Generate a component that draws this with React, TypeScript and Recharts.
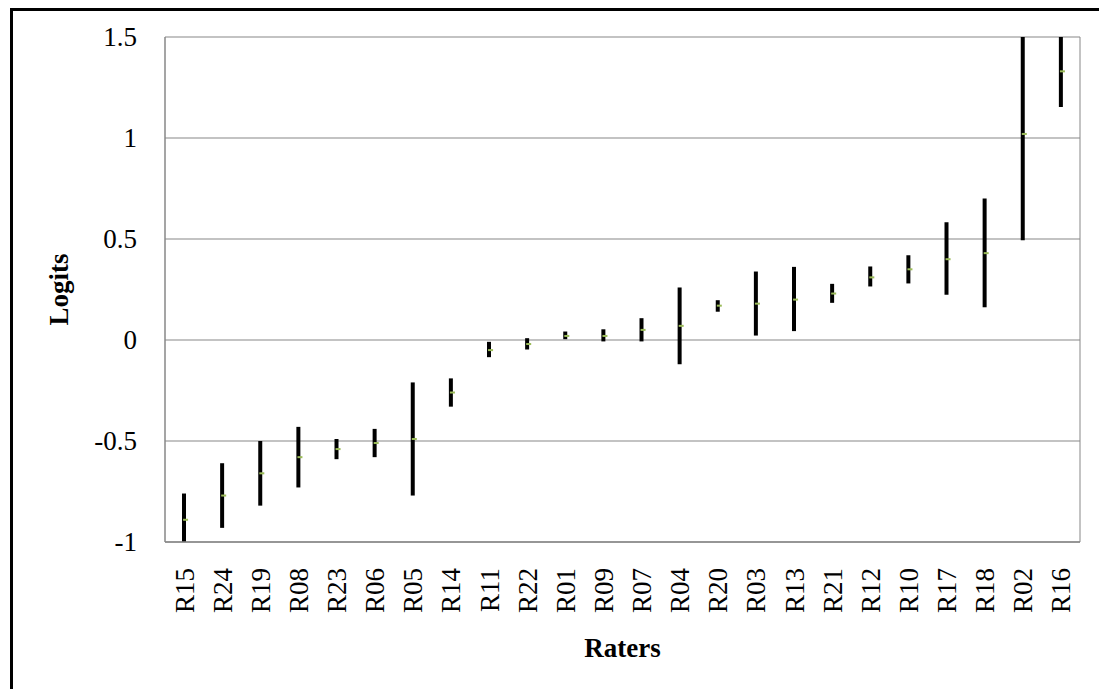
import React from "react";
import {
  Bar,
  CartesianGrid,
  ComposedChart,
  Scatter,
  XAxis,
  YAxis,
} from "recharts";

const raters = [
  "R15", "R24", "R19", "R08", "R23", "R06", "R05", "R14", "R11", "R22", "R01", "R09",
  "R07", "R04", "R20", "R03", "R13", "R21", "R12", "R10", "R17", "R18", "R02", "R16",
];

const measures = [
  -0.89, -0.77, -0.66, -0.58, -0.54, -0.51, -0.49, -0.26, -0.05, -0.02, 0.02, 0.02,
  0.05, 0.07, 0.17, 0.18, 0.2, 0.23, 0.31, 0.35, 0.4, 0.43, 1.02, 1.33,
];

const lowerBounds = [
  -1.02, -0.93, -0.82, -0.73, -0.59, -0.58, -0.77, -0.33, -0.085, -0.047, 0.004, -0.007,
  -0.007, -0.12, 0.14, 0.022, 0.044, 0.184, 0.265, 0.28, 0.224, 0.162, 0.494, 1.154,
];

const upperBounds = [
  -0.76, -0.61, -0.5, -0.43, -0.49, -0.44, -0.21, -0.19, -0.009, 0.009, 0.042, 0.053,
  0.108, 0.26, 0.197, 0.339, 0.362, 0.278, 0.364, 0.42, 0.583, 0.7, 1.55, 1.51,
];

const yTicks = [-1, -0.5, 0, 0.5, 1, 1.5];

const data = raters.map((rater, i) => ({
  rater,
  range: [lowerBounds[i], upperBounds[i]],
  measure: measures[i],
}));

const FONT = "Liberation Serif, Times New Roman, serif";
const GRID = "#878787";

function RaterTick({ x, y, payload }: { x?: number; y?: number; payload?: { value: string } }) {
  return (
    <g transform={`translate(${x},${(y ?? 0) + 26})`}>
      <text
        transform="rotate(-90)"
        textAnchor="end"
        dy="0.35em"
        style={{ fontFamily: FONT, fontSize: 27 }}
        fill="#000"
      >
        {payload?.value}
      </text>
    </g>
  );
}

function YTick({ x, y, payload }: { x?: number; y?: number; payload?: { value: number } }) {
  return (
    <text
      x={x}
      y={y}
      textAnchor="end"
      dy="0.35em"
      style={{ fontFamily: FONT, fontSize: 27 }}
      fill="#000"
    >
      {payload?.value}
    </text>
  );
}

function MeasureMark({ cx, cy }: { cx?: number; cy?: number }) {
  if (cx == null || cy == null) return null;
  return <rect x={cx - 1} y={cy - 1} width={5} height={2} fill="#9bbb59" />;
}

export default function App() {
  return (
    <div
      style={{
        position: "fixed",
        left: 10,
        top: 8,
        width: 1100,
        height: 700,
        borderTop: "3px solid #000",
        borderLeft: "3px solid #000",
        background: "#fff",
      }}
    >
      <ComposedChart
        width={1086}
        height={678}
        data={data}
        margin={{ top: 26, right: 0, left: 0, bottom: 0 }}
      >
        <CartesianGrid vertical={false} stroke={GRID} strokeWidth={1} />
        <XAxis
          dataKey="rater"
          type="category"
          height={147}
          interval={0}
          tickLine={false}
          tickSize={0}
          tickMargin={0}
          axisLine={{ stroke: GRID, strokeWidth: 1.5 }}
          tick={<RaterTick />}
          label={({ viewBox }: any) => (
            <text
              x={viewBox.x + viewBox.width / 2}
              y={viewBox.y + 106}
              textAnchor="middle"
              dominantBaseline="central"
              style={{ fontFamily: FONT, fontSize: 27, fontWeight: "bold" }}
              fill="#000"
            >
              Raters
            </text>
          )}
        />
        <YAxis
          type="number"
          domain={[-1, 1.5]}
          ticks={yTicks}
          allowDataOverflow
          width={152}
          tickLine={false}
          tickSize={0}
          tickMargin={28}
          axisLine={{ stroke: GRID, strokeWidth: 1.5 }}
          tick={<YTick />}
          label={({ viewBox }: any) => (
            <text
              x={46}
              y={viewBox.y + viewBox.height / 2}
              transform={`rotate(-90, 46, ${viewBox.y + viewBox.height / 2})`}
              textAnchor="middle"
              dominantBaseline="central"
              style={{ fontFamily: FONT, fontSize: 27, fontWeight: "bold" }}
              fill="#000"
            >
              Logits
            </text>
          )}
        />
        <YAxis
          yAxisId="frame"
          orientation="right"
          width={19}
          tick={false}
          tickLine={false}
          axisLine={{ stroke: GRID, strokeWidth: 1 }}
        />
        <Bar
          dataKey="range"
          barSize={4}
          fill="#000"
          isAnimationActive={false}
        />
        <Scatter
          dataKey="measure"
          shape={<MeasureMark />}
          isAnimationActive={false}
        />
      </ComposedChart>
    </div>
  );
}
